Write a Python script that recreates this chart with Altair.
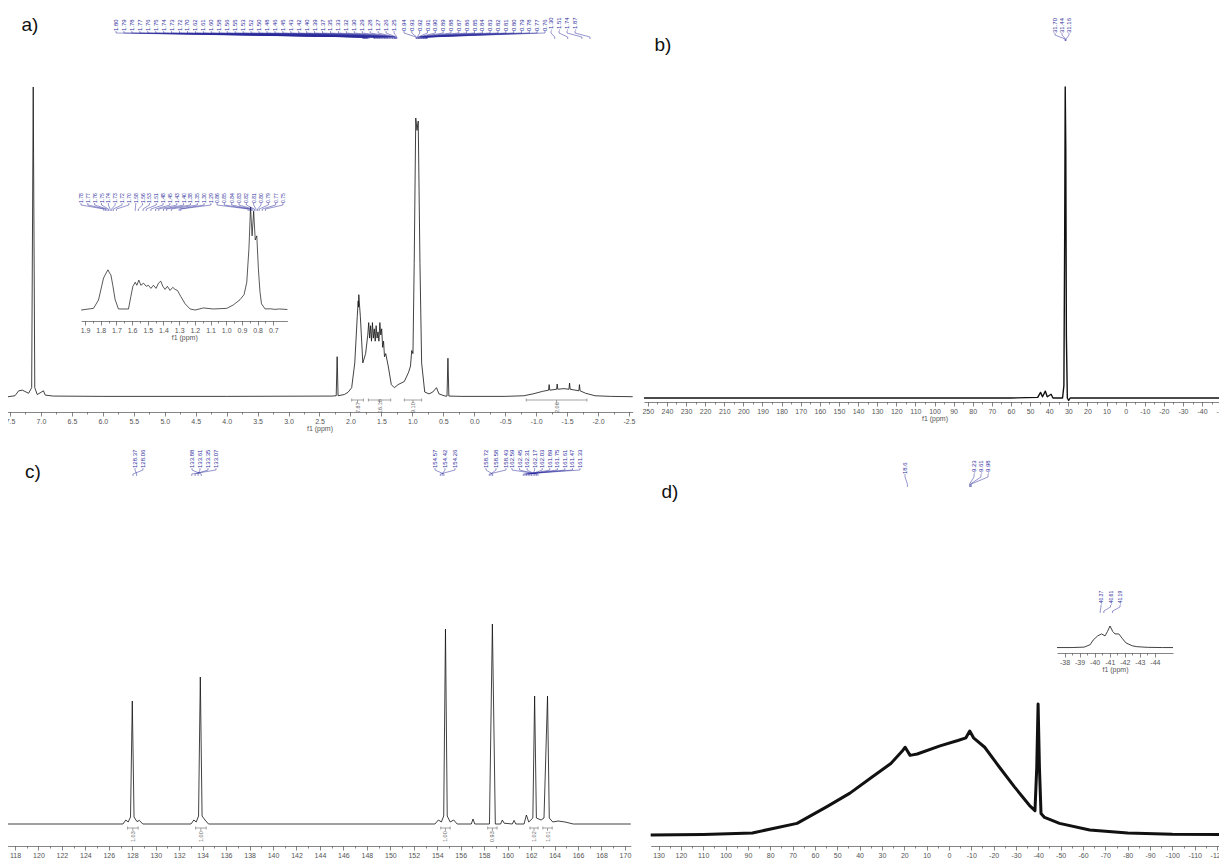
import altair as alt
import pandas as pd

W, H = 1211, 852
M = 8
FONT = "Liberation Sans"
BLUE = "#2c2c9c"
INK = "#111111"
AXC = "#333333"
LABC = "#555555"
GREY = "#666666"

# ---------------- data ----------------
# a) 1H spectrum: (ppm, relative intensity)
A_SPEC = [(7.56, 0.0), (7.42, 0.004), (7.36, 0.02), (7.30, 0.022), (7.26, 0.018), (7.20, 0.012), (7.15, 0.03),
          (7.125, 1.0), (7.10, 0.03), (7.06, 0.008), (7.00, 0.015), (6.96, 0.02), (6.93, 0.006), (6.80, 0.003),
          (6.00, 0.002), (4.00, 0.002), (2.30, 0.003), (2.23, 0.004), (2.215, 0.13), (2.20, 0.004), (2.10, 0.008),
          (2.04, 0.015), (1.98, 0.03), (1.93, 0.11), (1.89, 0.26), (1.875, 0.31), (1.87, 0.29), (1.865, 0.33),
          (1.855, 0.30), (1.84, 0.26), (1.80, 0.11),
          (1.755, 0.14), (1.72, 0.20), (1.705, 0.24), (1.69, 0.19), (1.675, 0.23), (1.66, 0.18), (1.645, 0.24),
          (1.63, 0.19), (1.615, 0.22), (1.60, 0.18), (1.585, 0.23), (1.57, 0.19), (1.555, 0.21), (1.54, 0.18),
          (1.525, 0.24), (1.51, 0.20), (1.495, 0.22), (1.48, 0.16), (1.465, 0.18), (1.45, 0.13), (1.43, 0.14),
          (1.39, 0.10), (1.34, 0.04), (1.29, 0.03), (1.23, 0.04),
          (1.13, 0.05), (1.06, 0.08), (1.03, 0.10), (1.01, 0.15), (0.99, 0.14), (0.97, 0.43), (0.945, 0.90),
          (0.925, 0.86), (0.905, 0.89),
          (0.877, 0.43), (0.85, 0.11), (0.80, 0.016), (0.73, 0.01), (0.67, 0.016), (0.61, 0.03), (0.57, 0.01),
          (0.47, 0.003), (0.44, 0.003), (0.425, 0.125), (0.41, 0.003), (0.20, 0.002), (-0.50, 0.002),
          (-0.80, 0.004), (-0.95, 0.01), (-1.10, 0.018), (-1.20, 0.022), (-1.21, 0.04), (-1.22, 0.022),
          (-1.33, 0.025), (-1.34, 0.042), (-1.35, 0.025), (-1.45, 0.027), (-1.53, 0.025), (-1.54, 0.045),
          (-1.55, 0.025), (-1.69, 0.02), (-1.70, 0.04), (-1.71, 0.02), (-1.80, 0.012), (-1.95, 0.004),
          (-2.20, 0.002), (-2.56, 0.001)]
A_TICKS = [7.5, 7.0, 6.5, 6.0, 5.5, 5.0, 4.5, 4.0, 3.5, 3.0, 2.5, 2.0, 1.5, 1.0, 0.5, 0.0,
           -0.5, -1.0, -1.5, -2.0, -2.5]
A_LAB1 = ["1.80", "1.79", "1.78", "1.77", "1.76", "1.75", "1.74", "1.73", "1.72", "1.70", "1.62", "1.61",
          "1.60", "1.58", "1.56", "1.55", "1.53", "1.52", "1.50", "1.48", "1.46", "1.45", "1.43", "1.42",
          "1.40", "1.39", "1.37", "1.35", "1.33", "1.32", "1.30", "1.29", "1.28", "1.27", "1.26", "1.25"]
A_LAB2 = ["0.94", "0.93", "0.92", "0.91", "0.90", "0.89", "0.88", "0.87", "0.86", "0.85", "0.84", "0.83",
          "0.82", "0.81", "0.80", "0.79", "0.78", "0.77", "0.76"]
A_LAB3 = ["-1.30", "-1.51", "-1.74", "-1.87"]
A_INTEG = [(1.98, 1.79, "7.87"), (1.71, 1.35, "16.10"), (1.13, 0.85, "9.10"), (-0.84, -1.82, "2.06")]

# a) inset
AI_SPEC = [(1.925, 0.0), (1.846, 0.016), (1.814, 0.097), (1.782, 0.31), (1.765, 0.36), (1.754, 0.39),
           (1.744, 0.36), (1.735, 0.34), (1.723, 0.24), (1.708, 0.10), (1.687, 0.01), (1.623, 0.01),
           (1.608, 0.13), (1.595, 0.23), (1.58, 0.27), (1.57, 0.24), (1.557, 0.29), (1.544, 0.24),
           (1.527, 0.26), (1.51, 0.23), (1.496, 0.24), (1.48, 0.21), (1.464, 0.24), (1.447, 0.21),
           (1.432, 0.26), (1.417, 0.28), (1.404, 0.23), (1.39, 0.20), (1.375, 0.23), (1.358, 0.19),
           (1.341, 0.22), (1.326, 0.20), (1.311, 0.19), (1.289, 0.13), (1.262, 0.06), (1.23, 0.01),
           (1.198, 0.0), (1.145, 0.02), (1.082, 0.01), (0.996, 0.016), (0.954, 0.05), (0.912, 0.10),
           (0.886, 0.15), (0.869, 0.27), (0.855, 0.60), (0.845, 1.0), (0.835, 0.72), (0.825, 0.96),
           (0.815, 0.68), (0.805, 0.72), (0.795, 0.40), (0.785, 0.18), (0.775, 0.06), (0.752, 0.01),
           (0.72, 0.012), (0.69, 0.006), (0.66, 0.01), (0.61, 0.005)]
AI_TICKS = [1.9, 1.8, 1.7, 1.6, 1.5, 1.4, 1.3, 1.2, 1.1, 1.0, 0.9, 0.8, 0.7]
AI_LAB1 = ["1.78", "1.77", "1.76", "1.75", "1.74", "1.73", "1.72", "1.70", "1.58", "1.56", "1.53", "1.51",
           "1.48", "1.45", "1.43", "1.40", "1.38", "1.35", "1.30", "1.29"]
AI_LAB2 = ["0.86", "0.85", "0.84", "0.83", "0.82", "0.81", "0.80", "0.79", "0.77", "0.75"]

# b) 13C spectrum
B_SPEC = [(252, 0.0), (150, 0.0), (60, 0.0), (46, 0.002), (44.5, 0.018), (43.5, 0.004), (42, 0.022),
          (41, 0.004), (39, 0.012), (38, 0.0), (33.0, 0.0), (32.3, 0.04), (31.9, 0.5), (31.6, 1.0),
          (31.3, 0.8), (31.0, 0.2), (30.5, 0.0), (29.8, -0.008), (29.0, 0.0), (-52, 0.0)]
B_TICKS = [250, 240, 230, 220, 210, 200, 190, 180, 170, 160, 150, 140, 130, 120, 110, 100, 90, 80,
           70, 60, 50, 40, 30, 20, 10, 0, -10, -20, -30, -40, -50]
B_LAB = ["31.70", "31.44", "31.16"]

# c) 13C spectrum (aromatic)
C_SPEC = [(117.2, 0.0), (127.2, 0.0), (127.45, 0.02), (127.65, 0.01), (127.85, 0.035), (128.0, 0.615),
          (128.15, 0.035), (128.4, 0.012), (128.6, 0.018), (128.9, 0.0), (133.0, 0.0), (133.25, 0.02),
          (133.45, 0.01), (133.65, 0.04), (133.8, 0.735), (133.95, 0.04), (134.2, 0.02), (134.5, 0.0),
          (153.8, 0.0), (154.1, 0.02), (154.35, 0.01), (154.55, 0.04), (154.7, 0.975), (154.85, 0.04),
          (155.1, 0.01), (155.4, 0.02), (155.7, 0.0), (156.9, 0.0), (157.05, 0.025), (157.2, 0.0),
          (158.45, 0.0), (158.7, 1.0), (158.95, 0.0), (159.4, 0.0), (159.55, 0.02), (159.7, 0.004),
          (160.4, 0.0), (160.55, 0.018), (160.7, 0.0), (161.4, 0.0), (161.6, 0.045), (161.8, 0.01),
          (162.15, 0.03), (162.3, 0.64), (162.45, 0.03), (162.85, 0.02), (163.1, 0.03), (163.4, 0.64),
          (163.55, 0.03), (163.85, 0.01), (164.3, 0.015), (164.9, 0.01), (165.6, 0.0), (170.5, 0.0)]
C_TICKS = [118, 120, 122, 124, 126, 128, 130, 132, 134, 136, 138, 140, 142, 144, 146, 148, 150, 152,
           154, 156, 158, 160, 162, 164, 166, 168, 170]
C_LAB1 = ["128.37", "128.06"]
C_LAB2 = ["133.88", "133.61", "133.35", "133.07"]
C_LAB3 = ["154.57", "154.42", "154.26"]
C_LAB4 = ["158.72", "158.58", "158.43"]
C_LAB5 = ["162.59", "162.45", "162.31", "162.17", "162.03", "161.89", "161.75", "161.61", "161.47", "161.33"]
C_INTEG = [(127.6, 128.5, "1.03"), (133.4, 134.3, "1.00"), (154.3, 155.1, "1.00"),
           (158.3, 159.1, "0.93"), (161.9, 162.6, "1.02"), (163.0, 163.8, "1.01")]

# d) 19F spectrum
D_SPEC = [(133.5, 0.0), (110, 0.004), (88, 0.015), (68, 0.086), (54.6, 0.21), (44.3, 0.31), (34.4, 0.43),
          (26, 0.53), (21, 0.62), (19.6, 0.65), (17.4, 0.59), (14.2, 0.60), (4, 0.66), (-4, 0.70),
          (-7.6, 0.72), (-9.3, 0.77), (-11, 0.72), (-16, 0.65), (-22.7, 0.50), (-29.4, 0.355), (-36, 0.22),
          (-38.5, 0.18), (-39.3, 0.5), (-39.9, 0.97), (-40.5, 0.5), (-41.2, 0.16), (-42.8, 0.13),
          (-49.5, 0.086), (-63, 0.037), (-80, 0.015), (-100, 0.006), (-124.5, 0.004)]
D_TICKS = [130, 120, 110, 100, 90, 80, 70, 60, 50, 40, 30, 20, 10, 0, -10, -20, -30, -40, -50, -60,
           -70, -80, -90, -100, -110, -120]
D_LAB1 = ["18.6"]
D_LAB2 = ["-9.23", "-9.61", "-9.98"]
DI_SPEC = [(-37.5, 0.02), (-38.5, 0.02), (-39.3, 0.04), (-39.7, 0.15), (-39.9, 0.36), (-40.2, 0.55),
           (-40.45, 0.64), (-40.69, 0.55), (-40.85, 0.75), (-41.02, 1.0), (-41.2, 0.75), (-41.35, 0.64),
           (-41.6, 0.64), (-41.85, 0.42), (-42.08, 0.23), (-42.5, 0.1), (-42.8, 0.06), (-43.5, 0.03),
           (-44.5, 0.02), (-45.2, 0.02)]
DI_TICKS = [-38, -39, -40, -41, -42, -43, -44]
DI_LAB = ["-40.37", "-40.61", "-41.19"]

# ---------------- layout (page pixels) ----------------
PA = dict(dom=(7.56, -2.56), r=(6.3, 632.7), base=397, top=87, axis=412)
PAI = dict(dom=(1.925, 0.61), r=(81.1, 287.4), base=310, top=207, axis=321)
PB = dict(dom=(252, -52), r=(644, 1225), base=398, top=87, axis=402)
PC = dict(dom=(117.2, 170.5), r=(5.6, 630.8), base=824, top=624, axis=846)
PD = dict(dom=(133.5, -124.5), r=(650.7, 1227.1), base=835, top=700, axis=846)
PDI = dict(dom=(-37.5, -45.2), r=(1057, 1173), base=648, top=626, axis=653)


def px(v):
    return v - M


def xsc(P):
    return alt.Scale(domain=list(P["dom"]), range=[px(P["r"][0]), px(P["r"][1])], nice=False, zero=False)


def ysc(P):
    return alt.Scale(domain=[0, 1], range=[px(P["base"]), px(P["top"])], nice=False, zero=False)


IDY = alt.Scale(domain=[0, H], range=[0, H], nice=False, zero=False)


def spectrum(points, P, sw=0.8):
    df = pd.DataFrame(points, columns=["ppm", "v"])
    df["i"] = range(len(df))
    return alt.Chart(df).mark_line(color=INK, strokeWidth=sw, strokeJoin="round").encode(
        x=alt.X("ppm:Q", scale=xsc(P), axis=None),
        y=alt.Y("v:Q", scale=ysc(P), axis=None),
        order=alt.Order("i:Q"),
    )


def axis_layers(P, ticks, fmt, size=7, tick=4, title="f1 (ppm)"):
    off = px(P["axis"]) - H
    major = alt.Chart(pd.DataFrame({"t": ticks})).mark_point(opacity=0, size=1).encode(
        x=alt.X("t:Q", scale=xsc(P), axis=alt.Axis(
            orient="bottom", offset=off, values=ticks, format=fmt,
            labelExpr="replace(datum.label, '\u2212', '-')",
            labelFontSize=size, labelFont=FONT, labelColor=LABC, labelPadding=1,
            labelOverlap=False, labelFlush=False,
            tickSize=tick, tickColor=AXC, tickWidth=0.6, domainColor=AXC, domainWidth=0.6,
            title=title, titleFont=FONT, titleFontSize=size, titleFontWeight="normal",
            titleColor=LABC, titlePadding=0, grid=False)),
        y=alt.value(0),
    )
    mids = [(a + b) / 2 for a, b in zip(ticks[:-1], ticks[1:])]
    minor = alt.Chart(pd.DataFrame({"t": mids})).mark_point(opacity=0, size=1).encode(
        x=alt.X("t:Q", scale=xsc(P), axis=alt.Axis(
            orient="bottom", offset=off, values=mids, labels=False, domain=False,
            tickSize=tick * 0.5, tickColor=AXC, tickWidth=0.6, title=None, grid=False)),
        y=alt.value(0),
    )
    return [major, minor]


def fan_layers(P, groups, text_bottom, conn, size=6, color=BLUE):
    d0, d1 = P["dom"]
    r0, r1 = P["r"]

    def to_ppm(xp):
        return d0 + (xp - r0) / (r1 - r0) * (d1 - d0)

    rows_t, rows_c = [], []
    for gi, (labs, (xl, xr)) in enumerate(groups):
        n = len(labs)
        for k, lab in enumerate(labs):
            xp = xl + (xr - xl) * k / (n - 1) if n > 1 else (xl + xr) / 2
            s = to_ppm(xp)
            pk = float(lab)
            rows_t.append({"s": s, "lab": lab})
            pts = [(s, conn[0]), (s, conn[1]), (pk, conn[2]), (pk, conn[3])]
            for j, (xx, yy) in enumerate(pts):
                rows_c.append({"key": f"{gi}_{k}", "j": j, "x": xx, "y": px(yy)})
    t = alt.Chart(pd.DataFrame(rows_t)).mark_text(
        angle=270, align="left", baseline="middle", fontSize=size, font=FONT, color=color).encode(
        x=alt.X("s:Q", scale=xsc(P), axis=None),
        y=alt.value(px(text_bottom)),
        text="lab:N",
    )
    c = alt.Chart(pd.DataFrame(rows_c)).mark_line(color=color, strokeWidth=0.5).encode(
        x=alt.X("x:Q", scale=xsc(P), axis=None),
        y=alt.Y("y:Q", scale=IDY, axis=None),
        detail="key:N",
        order=alt.Order("j:Q"),
    )
    return [c, t]


def integ_layers(P, items, ybar, text_bottom, size=5.5):
    df = pd.DataFrame(items, columns=["x1", "x2", "lab"])
    df["xm"] = (df["x1"] + df["x2"]) / 2
    hbar = alt.Chart(df).mark_rule(color=GREY, strokeWidth=0.6).encode(
        x=alt.X("x1:Q", scale=xsc(P), axis=None), x2="x2:Q", y=alt.value(px(ybar)))
    ends = pd.DataFrame({"e": list(df["x1"]) + list(df["x2"])})
    etick = alt.Chart(ends).mark_rule(color=GREY, strokeWidth=0.6).encode(
        x=alt.X("e:Q", scale=xsc(P), axis=None), y=alt.value(px(ybar - 1.5)), y2=alt.value(px(ybar + 1.5)))
    mtick = alt.Chart(df).mark_rule(color=GREY, strokeWidth=0.6).encode(
        x=alt.X("xm:Q", scale=xsc(P), axis=None), y=alt.value(px(ybar)), y2=alt.value(px(ybar + 3)))
    txt = alt.Chart(df).mark_text(angle=270, align="left", baseline="middle", fontSize=size,
                                  font=FONT, color=GREY).encode(
        x=alt.X("xm:Q", scale=xsc(P), axis=None), y=alt.value(px(text_bottom)), text="lab:N")
    return [hbar, etick, mtick, txt]


def letter(txt, x, y):
    return alt.Chart(pd.DataFrame({"t": [txt]})).mark_text(
        fontSize=19, font=FONT, color="#111111", align="center", baseline="middle").encode(
        x=alt.value(px(x)), y=alt.value(px(y)), text="t:N")


layers = []
# ---- panel a ----
layers += axis_layers(PA, A_TICKS, ".1f")
layers.append(spectrum(A_SPEC, PA))
layers += integ_layers(PA, A_INTEG, 400, 413)
layers += fan_layers(PA, [(A_LAB1, (116, 394)), (A_LAB2, (404, 545)), (A_LAB3, (551, 575))],
                     31, (31, 33, 37, 39), size=6)
layers += axis_layers(PAI, AI_TICKS, ".1f")
layers.append(spectrum(AI_SPEC, PAI, sw=0.7))
layers += fan_layers(PAI, [(AI_LAB1, (81, 211)), (AI_LAB2, (217, 283))], 203, (203, 205, 209, 211), size=5)
layers.append(letter("a)", 30, 25))
# ---- panel b ----
layers += axis_layers(PB, B_TICKS, "d")
layers.append(spectrum(B_SPEC, PB, sw=1.4))
layers += fan_layers(PB, [(B_LAB, (1055, 1069))], 33, (33, 35, 39, 41), size=6)
layers.append(letter("b)", 663, 45))
# ---- panel c ----
layers += axis_layers(PC, C_TICKS, "d")
layers.append(spectrum(C_SPEC, PC))
layers += integ_layers(PC, C_INTEG, 828, 842)
layers += fan_layers(PC, [(C_LAB1, (135, 143)), (C_LAB2, (192, 216)), (C_LAB3, (435, 455)),
                          (C_LAB4, (486, 506)), (C_LAB5, (512, 580))], 468, (468, 470, 474, 476), size=6)
layers.append(letter("c)", 33, 472))
# ---- panel d ----
layers += axis_layers(PD, D_TICKS, "d")
layers.append(spectrum(D_SPEC, PD, sw=3.0))
layers += fan_layers(PD, [(D_LAB1, (905, 905)), (D_LAB2, (974, 988))], 474, (474, 477, 484, 487), size=6)
layers += axis_layers(PDI, DI_TICKS, "d")
layers.append(spectrum(DI_SPEC, PDI, sw=0.8))
layers += fan_layers(PDI, [(DI_LAB, (1101, 1120))], 605, (605, 607, 611, 613), size=5)
layers.append(letter("d)", 670, 492))

chart = alt.layer(*layers).resolve_scale(x="independent", y="independent").properties(
    width=W, height=H, autosize=alt.AutoSizeParams(type="none"), padding=0
).configure_view(stroke=None)

chart.save("out.html", embed_options={"renderer": "svg", "actions": False})
